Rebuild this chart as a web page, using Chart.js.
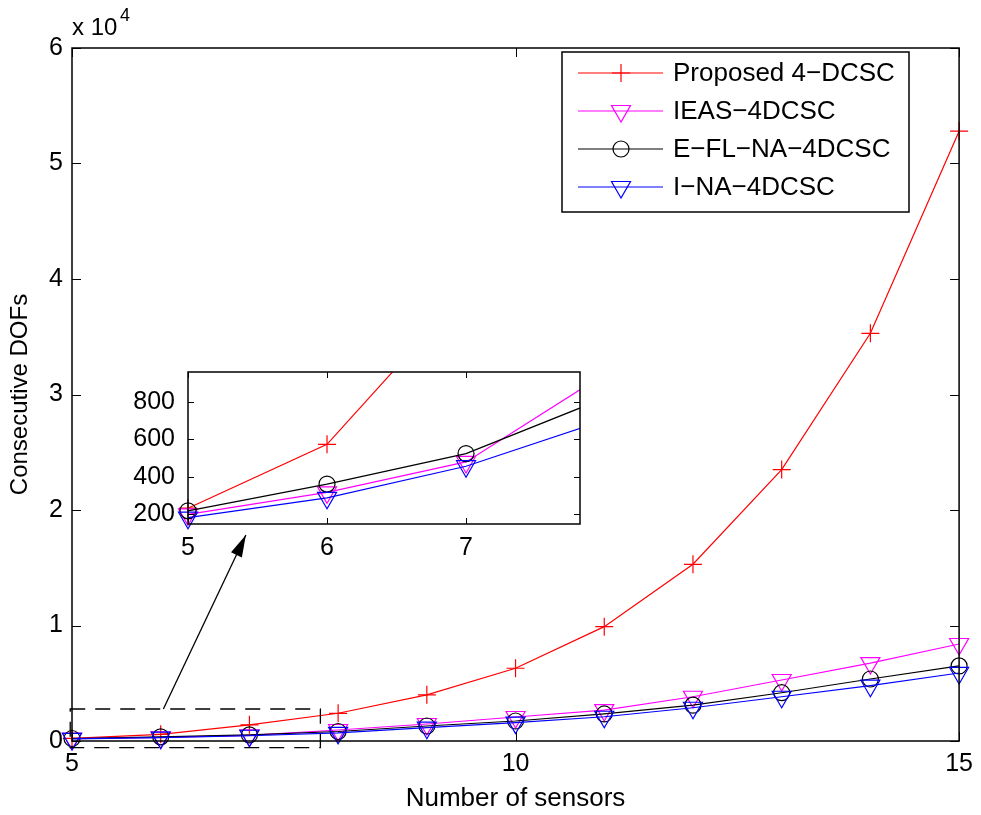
<!DOCTYPE html>
<html>
<head>
<meta charset="utf-8">
<script src="https://cdn.jsdelivr.net/npm/chart.js@4.4.1/dist/chart.umd.min.js"></script>
<style>
  body { margin: 0; background: #fff; }
  #wrap { position: relative; width: 981px; height: 815px; }
  #wrap canvas { position: absolute; left: 0; top: 0; }
</style>
</head>
<body>
<div id="wrap">
  <canvas id="mainChart" width="981" height="815"></canvas>
  <canvas id="insetChart" width="981" height="815"></canvas>
</div>
<script>
// Number of sensors
const sensors = [5, 6, 7, 8, 9, 10, 11, 12, 13, 14, 15];

// Consecutive DOFs for each method
const proposedDofs = [230, 574, 1400, 2400, 4000, 6300, 9900, 15300, 23500, 35300, 52800];
const ieasDofs     = [197, 315, 479, 953, 1470, 2080, 2680, 3830, 5280, 6750, 8400];
const eflnaDofs    = [216, 360, 524, 823, 1300, 1730, 2340, 3100, 4180, 5370, 6500];
const inaDofs      = [179, 286, 456, 704, 1150, 1590, 2100, 2880, 3830, 4790, 5890];

const seriesNames = ['Proposed 4\u2212DCSC', 'IEAS\u22124DCSC', 'E\u2212FL\u2212NA\u22124DCSC', 'I\u2212NA\u22124DCSC'];

// Tick labels
const mainXTicks = [5, 10, 15];
const mainYTicks = [0, 1, 2, 3, 4, 5, 6];   // x 10^4
const insetXTicks = [5, 6, 7];
const insetYTicks = [200, 400, 600, 800];

const FONT = 'Liberation Sans, Arial, Helvetica, sans-serif';

const styles = [
    { color: '#ff0000', pointStyle: 'cross', radius: 9, rotation: 0 },
    { color: '#ff00ff', pointStyle: 'triangle', radius: 11, rotation: 180 },
    { color: '#000000', pointStyle: 'circle', radius: 8, rotation: 0 },
    { color: '#0000ff', pointStyle: 'triangle', radius: 11, rotation: 180 }
];

function makeDatasets(clip) {
    return [proposedDofs, ieasDofs, eflnaDofs, inaDofs].map((vals, i) => ({
        label: seriesNames[i],
        data: vals.map((v, j) => ({ x: sensors[j], y: v })),
        borderColor: styles[i].color,
        backgroundColor: 'transparent',
        borderWidth: 1.2,
        pointStyle: styles[i].pointStyle,
        pointRadius: styles[i].radius,
        pointRotation: styles[i].rotation,
        pointBorderColor: styles[i].color,
        pointBackgroundColor: 'transparent',
        pointBorderWidth: 1.2,
        tension: 0,
        order: 3 - i,
        clip: clip
    }));
}

// MATLAB style box with inward ticks
const boxTicks = {
    id: 'boxTicks',
    afterDatasetsDraw(chart, args, opts) {
        const { ctx, chartArea: a, scales } = chart;
        ctx.save();
        ctx.strokeStyle = '#000';
        ctx.lineWidth = 1;
        ctx.beginPath();
        scales.x.ticks.forEach(t => {
            const px = Math.round(scales.x.getPixelForValue(t.value)) + 0.5;
            ctx.moveTo(px, a.bottom); ctx.lineTo(px, a.bottom - opts.len);
            ctx.moveTo(px, a.top); ctx.lineTo(px, a.top + opts.len);
        });
        scales.y.ticks.forEach(t => {
            const py = Math.round(scales.y.getPixelForValue(t.value)) + 0.5;
            ctx.moveTo(a.left, py); ctx.lineTo(a.left + opts.len, py);
            ctx.moveTo(a.right, py); ctx.lineTo(a.right - opts.len, py);
        });
        ctx.stroke();
        ctx.lineWidth = opts.border;
        ctx.strokeRect(a.left, a.top, a.right - a.left, a.bottom - a.top);
        ctx.restore();
    }
};

// white plot background for the inset
const whiteArea = {
    id: 'whiteArea',
    beforeDraw(chart) {
        const { ctx, chartArea: a } = chart;
        ctx.save();
        ctx.fillStyle = '#fff';
        ctx.fillRect(a.left, a.top, a.right - a.left, a.bottom - a.top);
        ctx.restore();
    }
};

// legend with line + marker like MATLAB
const matLegend = {
    id: 'matLegend',
    afterDraw(chart, args, o) {
        const ctx = chart.ctx;
        ctx.save();
        ctx.fillStyle = '#fff';
        ctx.fillRect(o.x, o.y, o.w, o.h);
        ctx.strokeStyle = '#000';
        ctx.lineWidth = 1.5;
        ctx.strokeRect(o.x, o.y, o.w, o.h);
        ctx.font = '26px ' + FONT;
        ctx.textBaseline = 'middle';
        chart.data.datasets.forEach((ds, i) => {
            const cy = o.y + o.first + i * o.rowH;
            ctx.strokeStyle = ds.borderColor;
            ctx.lineWidth = 1.2;
            ctx.beginPath();
            ctx.moveTo(o.x + 16, cy);
            ctx.lineTo(o.x + 101, cy);
            ctx.stroke();
            ctx.fillStyle = 'transparent';
            Chart.helpers.drawPoint(ctx, {
                pointStyle: ds.pointStyle,
                rotation: ds.pointRotation,
                radius: ds.pointRadius,
                borderWidth: 1.2
            }, o.x + 59, cy);
            ctx.fillStyle = '#000';
            ctx.fillText(ds.label, o.x + 111, cy + 1);
        });
        ctx.restore();
    }
};

// zoom box, arrow and exponent label
const zoomMark = {
    id: 'zoomMark',
    afterDatasetsDraw(chart) {
        const { ctx, scales: { x, y }, chartArea: a } = chart;
        ctx.save();
        ctx.strokeStyle = '#000';
        ctx.lineWidth = 1.3;
        ctx.setLineDash([15, 10]);
        const l = x.getPixelForValue(4.98), r = x.getPixelForValue(7.8);
        const t = y.getPixelForValue(2770), b = y.getPixelForValue(-580);
        ctx.strokeRect(l, t, r - l, b - t);
        ctx.setLineDash([]);
        // arrow
        const x0 = x.getPixelForValue(6.03), y0 = t;
        const x1 = x.getPixelForValue(6.96), y1 = y.getPixelForValue(17840);
        const ang = Math.atan2(y1 - y0, x1 - x0);
        ctx.beginPath();
        ctx.moveTo(x0, y0);
        ctx.lineTo(x1, y1);
        ctx.stroke();
        ctx.beginPath();
        ctx.moveTo(x1, y1);
        ctx.lineTo(x1 - 22 * Math.cos(ang) + 6 * Math.sin(ang), y1 - 22 * Math.sin(ang) - 6 * Math.cos(ang));
        ctx.lineTo(x1 - 22 * Math.cos(ang) - 6 * Math.sin(ang), y1 - 22 * Math.sin(ang) + 6 * Math.cos(ang));
        ctx.closePath();
        ctx.fillStyle = '#000';
        ctx.fill();
        // exponent
        ctx.textBaseline = 'alphabetic';
        ctx.font = '24px ' + FONT;
        ctx.fillText('x 10', a.left, a.top - 13);
        ctx.font = '18px ' + FONT;
        ctx.fillText('4', a.left + 48, a.top - 27);
        ctx.restore();
    }
};

const tickFont = { family: FONT, size: 25 };

new Chart(document.getElementById('mainChart'), {
    type: 'line',
    data: { datasets: makeDatasets(false) },
    options: {
        responsive: false,
        animation: false,
        devicePixelRatio: 1,
        layout: { padding: { top: 48, right: 18, left: 0, bottom: 0 } },
        plugins: {
            legend: { display: false },
            tooltip: { enabled: false },
            boxTicks: { len: 9, border: 1.5 },
            matLegend: { x: 562, y: 52, w: 347, h: 160, first: 21, rowH: 38 }
        },
        scales: {
            x: {
                type: 'linear', min: 5, max: 15,
                afterBuildTicks: s => { s.ticks = mainXTicks.map(v => ({ value: v })); },
                afterFit: s => { s.height = 74; },
                ticks: { font: tickFont, color: '#000', padding: 8, maxRotation: 0, autoSkip: false },
                grid: { display: false, drawTicks: false },
                border: { display: false },
                title: { display: true, text: 'Number of sensors', color: '#000', font: { family: FONT, size: 26 }, padding: { top: 0, bottom: 1 } }
            },
            y: {
                type: 'linear', min: 0, max: 60000,
                afterBuildTicks: s => { s.ticks = mainYTicks.map(v => ({ value: v * 10000 })); },
                afterFit: s => { s.width = 72; },
                ticks: { font: tickFont, color: '#000', padding: 9, callback: v => v / 10000, autoSkip: false },
                grid: { display: false, drawTicks: false },
                border: { display: false },
                title: { display: true, text: 'Consecutive DOFs', color: '#000', font: { family: FONT, size: 24 }, padding: { top: 6 } }
            }
        }
    },
    plugins: [boxTicks, zoomMark, matLegend]
});

new Chart(document.getElementById('insetChart'), {
    type: 'line',
    data: { datasets: makeDatasets({ left: 12, right: 0, top: 0, bottom: 12 }) },
    options: {
        responsive: false,
        animation: false,
        devicePixelRatio: 1,
        layout: { padding: { top: 372, right: 401, left: 0, bottom: 0 } },
        plugins: {
            legend: { display: false },
            tooltip: { enabled: false },
            boxTicks: { len: 6, border: 1.5 }
        },
        scales: {
            x: {
                type: 'linear', min: 5, max: 7.82,
                afterBuildTicks: s => { s.ticks = insetXTicks.map(v => ({ value: v })); },
                afterFit: s => { s.height = 291; },
                ticks: { font: { family: FONT, size: 25 }, color: '#000', padding: 9, maxRotation: 0, autoSkip: false },
                grid: { display: false, drawTicks: false },
                border: { display: false }
            },
            y: {
                type: 'linear', min: 145, max: 963,
                afterBuildTicks: s => { s.ticks = insetYTicks.map(v => ({ value: v })); },
                afterFit: s => { s.width = 188; },
                ticks: { font: { family: FONT, size: 25 }, color: '#000', padding: 13, autoSkip: false },
                grid: { display: false, drawTicks: false },
                border: { display: false }
            }
        }
    },
    plugins: [whiteArea, boxTicks]
});
</script>
</body>
</html>
